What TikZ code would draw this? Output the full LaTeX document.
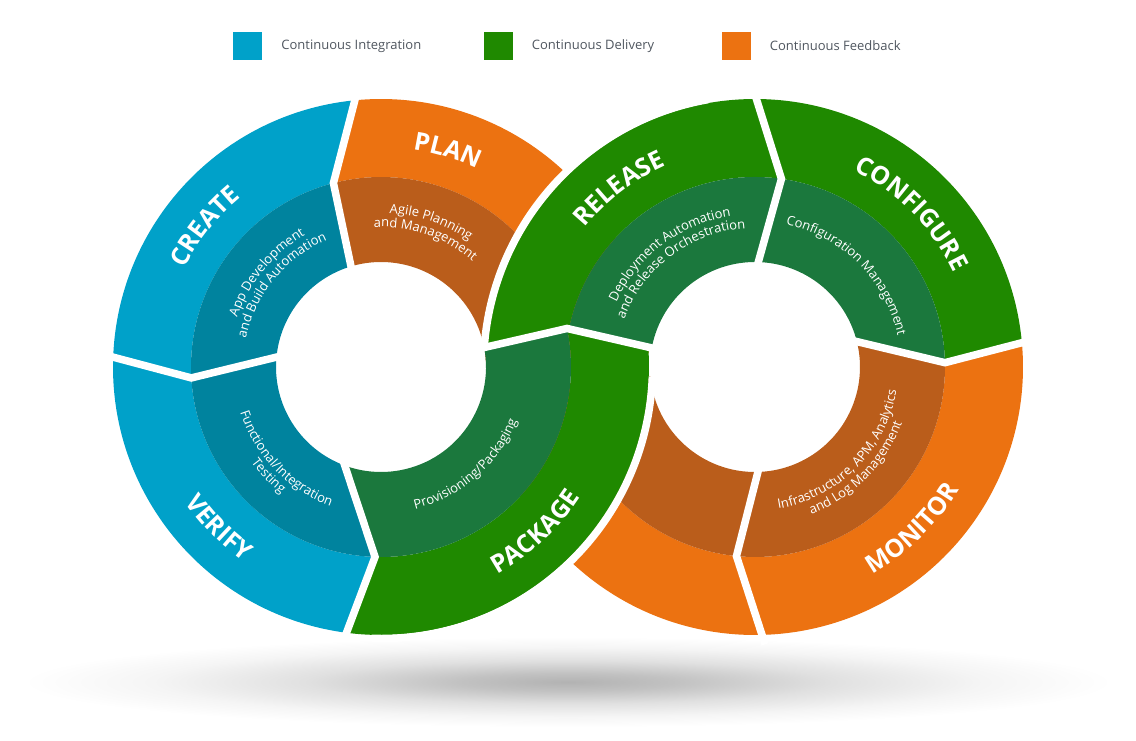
\documentclass[tikz,border=0pt]{standalone}
\usepackage{fontspec}
\setmainfont{Open Sans}
\usetikzlibrary{calc,positioning,decorations.text}

\definecolor{ciBlue}{HTML}{00A1C9}
\definecolor{ciBlueDark}{HTML}{00839E}
\definecolor{cdGreen}{HTML}{1F8900}
\definecolor{cdGreenDark}{HTML}{1B783D}
\definecolor{cfOrange}{HTML}{EC7211}
\definecolor{cfOrangeDark}{HTML}{BA5D1B}
\definecolor{legendGray}{HTML}{4F565F}

\newcommand{\stagefont}{\fontsize{25}{25}\bfseries\color{white}}
\newcommand{\toolfont}{\fontsize{13}{13}\selectfont\color{white}}

\pgfdeclareradialshading{floorshadow}{\pgfpoint{0bp}{0bp}}{color(0bp)=(black!30); color(5bp)=(black!24); color(12bp)=(black!12); color(19bp)=(black!4); color(25bp)=(white); color(50bp)=(white)}

\tikzset{
  cutline/.style={draw=white, line width=7.5pt},
  stagetext/.style={decorate, decoration={text along path, text align=center, text={|\stagefont|#1}}},
  tooltext/.style={decorate, decoration={text along path, text align=center, text={|\toolfont|#1}}},
  legendbox/.style={minimum width=29pt, minimum height=28pt, inner sep=0pt},
  legendlabel/.style={font=\fontsize{13}{15}\selectfont, text=legendGray, inner sep=0pt},
}

\begin{document}
\begin{tikzpicture}[x=1pt, y=1pt]
    \useasboundingbox (0,0) rectangle (1136,740);

    % shadow under the loops
    \shade[shading=floorshadow] (568,58) ellipse [x radius=545pt, y radius=45pt];

    % legend
    \node[legendbox, fill=ciBlue] (ci-box) at (247.5,694) {};
    \node[legendlabel, right=19pt of ci-box] (ci-label) {Continuous Integration};
    \node[legendbox, fill=cdGreen] (cd-box) at (498,694) {};
    \node[legendlabel, right=19pt of cd-box] (cd-label) {Continuous Delivery};
    \node[legendbox, fill=cfOrange] (cf-box) at (736,694) {};
    \node[legendlabel, right=19pt of cf-box] (cf-label) {Continuous Feedback};

\begin{scope}[shift={(381,373)}]

    % chevron cuts of the left loop
    \coordinate (pc-i) at (106.6:105pt);
    \coordinate (pc-v) at (104.5:190pt);
    \coordinate (pc-o) at (95.6:268pt);
    \coordinate (cv-i) at (174.6:105pt);
    \coordinate (cv-v) at (183.3:190pt);
    \coordinate (cv-o) at (177.9:268pt);
    \coordinate (vp-i) at (249.8:105pt);
    \coordinate (vp-v) at (268.2:190pt);
    \coordinate (vp-o) at (262.6:268pt);
    \coordinate (pr-i) at (10.7:105pt);
    \coordinate (pr-v) at (11.7:190pt);
    \coordinate (pr-o) at (4.25:268pt);

    % plan
    \fill[cfOrange] (3:268pt) arc[start angle=3, end angle=95.6, radius=268pt] -- (pc-v) arc[start angle=104.5, end angle=3, radius=190pt] -- cycle;
    \fill[cfOrangeDark] (3:190pt) arc[start angle=3, end angle=104.5, radius=190pt] -- (pc-i) arc[start angle=106.6, end angle=3, radius=105pt] -- cycle;

    % create
    \fill[ciBlue] (pc-o) arc[start angle=95.6, end angle=177.9, radius=268pt] -- (cv-v) arc[start angle=183.3, end angle=104.5, radius=190pt] -- cycle;
    \fill[ciBlueDark] (pc-v) arc[start angle=104.5, end angle=183.3, radius=190pt] -- (cv-i) arc[start angle=174.6, end angle=106.6, radius=105pt] -- cycle;

    % verify
    \fill[ciBlue] (cv-o) arc[start angle=177.9, end angle=262.6, radius=268pt] -- (vp-v) arc[start angle=268.2, end angle=183.3, radius=190pt] -- cycle;
    \fill[ciBlueDark] (cv-v) arc[start angle=183.3, end angle=268.2, radius=190pt] -- (vp-i) arc[start angle=249.8, end angle=174.6, radius=105pt] -- cycle;

\end{scope}

\begin{scope}[shift={(755,373)}]

    % chevron cuts of the right loop
    \coordinate (rc-i) at (88.2:105pt);
    \coordinate (rc-v) at (82:190pt);
    \coordinate (rc-o) at (89.7:268pt);
    \coordinate (cm-i) at (14:105pt);
    \coordinate (cm-v) at (1.3:190pt);
    \coordinate (cm-o) at (5.2:268pt);
    \coordinate (mo-i) at (-88.4:105pt);
    \coordinate (mo-v) at (-95.6:190pt);
    \coordinate (mo-o) at (-88.5:268pt);

    % configure
    \fill[cdGreen] (rc-o) arc[start angle=89.7, end angle=5.2, radius=268pt] -- (cm-v) arc[start angle=1.3, end angle=82, radius=190pt] -- cycle;
    \fill[cdGreenDark] (rc-v) arc[start angle=82, end angle=1.3, radius=190pt] -- (cm-i) arc[start angle=14, end angle=88.2, radius=105pt] -- cycle;

    % monitor
    \fill[cfOrange] (cm-o) arc[start angle=5.2, end angle=-88.5, radius=268pt] -- (mo-v) arc[start angle=-95.6, end angle=1.3, radius=190pt] -- cycle;
    \fill[cfOrangeDark] (cm-v) arc[start angle=1.3, end angle=-95.6, radius=190pt] -- (mo-i) arc[start angle=-88.4, end angle=14, radius=105pt] -- cycle;

    % feedback back to plan
    \fill[cfOrange] (mo-o) arc[start angle=-88.5, end angle=-175, radius=268pt] -- (-175:190pt) arc[start angle=-175, end angle=-95.6, radius=190pt] -- cycle;
    \fill[cfOrangeDark] (mo-v) arc[start angle=-95.6, end angle=-175, radius=190pt] -- (-175:105pt) arc[start angle=-175, end angle=-88.4, radius=105pt] -- cycle;

\end{scope}

\begin{scope}[shift={(381,373)}]

    % package, over the feedback part
    \fill[cdGreen] (vp-o) arc[start angle=262.6, end angle=364.25, radius=268pt] -- (pr-v) arc[start angle=371.7, end angle=268.2, radius=190pt] -- cycle;
    \fill[cdGreenDark] (vp-v) arc[start angle=268.2, end angle=371.7, radius=190pt] -- (pr-i) arc[start angle=370.7, end angle=249.8, radius=105pt] -- cycle;
    \draw[cutline] (268:271.5pt) arc[start angle=268, end angle=358, radius=271.5pt];

\end{scope}

\begin{scope}[shift={(755,373)}]

    % release, over the plan part
    \fill[cdGreen] (pr-i) -- (175.7:268pt) arc[start angle=175.7, end angle=89.7, radius=268pt] -- (rc-v) arc[start angle=82, end angle=168.2, radius=190pt] -- (pr-v) -- cycle;
    \fill[cdGreenDark] (168.2:190pt) arc[start angle=168.2, end angle=82, radius=190pt] -- (rc-i) arc[start angle=88.2, end angle=169.2, radius=105pt] -- (pr-o) -- (pr-v) -- cycle;
    \draw[cutline] (176:271.5pt) arc[start angle=176, end angle=100, radius=271.5pt];

\end{scope}

    % white cuts between the stages
    \draw[cutline] ($(pc-v)!1.12!(pc-i)$) -- (pc-v) -- ($(pc-v)!1.12!(pc-o)$);
    \draw[cutline] ($(cv-v)!1.12!(cv-i)$) -- (cv-v) -- ($(cv-v)!1.12!(cv-o)$);
    \draw[cutline] ($(vp-v)!1.12!(vp-i)$) -- (vp-v) -- ($(vp-v)!1.12!(vp-o)$);
    \draw[cutline] ($(pr-v)!1.12!(pr-i)$) -- (pr-v) -- ($(pr-v)!1.12!(pr-o)$);
    \draw[cutline] ($(rc-v)!1.12!(rc-i)$) -- (rc-v) -- ($(rc-v)!1.12!(rc-o)$);
    \draw[cutline] ($(cm-v)!1.12!(cm-i)$) -- (cm-v) -- ($(cm-v)!1.12!(cm-o)$);
    \draw[cutline] ($(mo-v)!1.12!(mo-i)$) -- (mo-v) -- ($(mo-v)!1.12!(mo-o)$);

\begin{scope}[shift={(381,373)}]

    % stage names, left loop
    \path[stagetext={PLAN}] (117.9:220pt) arc[start angle=117.9, end angle=27.9, radius=220pt];
    \path[stagetext={CREATE}] (186.4:220pt) arc[start angle=186.4, end angle=96.4, radius=220pt];
    \path[stagetext={VERIFY}] (179.7:238pt) arc[start angle=179.7, end angle=269.7, radius=238pt];
    \path[stagetext={PACKAGE}] (268:238pt) arc[start angle=268, end angle=358, radius=238pt];

    % tools, left loop
    \path[tooltext={Agile Planning}] (121:154pt) arc[start angle=121, end angle=21, radius=154pt];
    \path[tooltext={and Management}] (121:140pt) arc[start angle=121, end angle=21, radius=140pt];
    \path[tooltext={App Development}] (195.5:152pt) arc[start angle=195.5, end angle=85.5, radius=152pt];
    \path[tooltext={and Build Automation}] (195.5:138pt) arc[start angle=195.5, end angle=85.5, radius=138pt];
    \path[tooltext={Functional/Integration}] (164:148pt) arc[start angle=164, end angle=284, radius=148pt];
    \path[tooltext={Testing}] (164:161pt) arc[start angle=164, end angle=284, radius=161pt];
    \path[tooltext={Provisioning/Packaging}] (251:146pt) arc[start angle=251, end angle=371, radius=146pt];

\end{scope}

\begin{scope}[shift={(755,373)}]

    % stage names, right loop
    \path[stagetext={RELEASE}] (172.3:220pt) arc[start angle=172.3, end angle=82.3, radius=220pt];
    \path[stagetext={CONFIGURE}] (94.4:220pt) arc[start angle=94.4, end angle=-5.6, radius=220pt];
    \path[stagetext={MONITOR}] (264.3:238pt) arc[start angle=264.3, end angle=364.3, radius=238pt];

    % tools, right loop
    \path[tooltext={Deployment Automation}] (187:153pt) arc[start angle=187, end angle=67, radius=153pt];
    \path[tooltext={and Release Orchestration}] (187:139pt) arc[start angle=187, end angle=67, radius=139pt];
    \path[tooltext={Configuration Management}] (105:146pt) arc[start angle=105, end angle=-15, radius=146pt];
    \path[tooltext={Infrastructure, APM, Analytics}] (255:143.5pt) arc[start angle=255, end angle=375, radius=143.5pt];
    \path[tooltext={and Log Management}] (255:157.5pt) arc[start angle=255, end angle=375, radius=157.5pt];

\end{scope}
\end{tikzpicture}
\end{document}
